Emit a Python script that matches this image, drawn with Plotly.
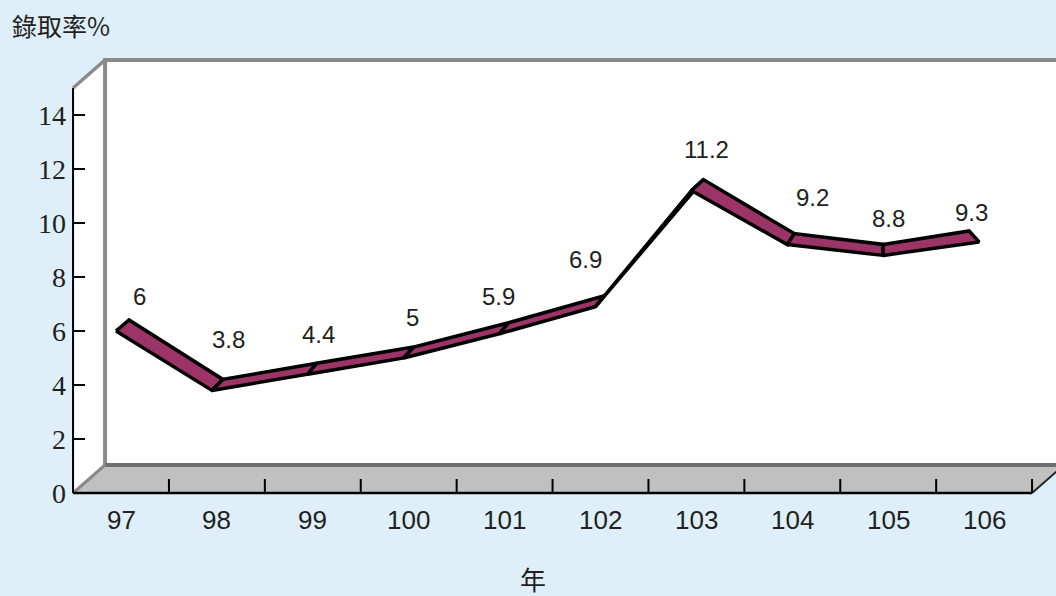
import plotly.graph_objects as go

# ---- data ----
YEARS = ["97", "98", "99", "100", "101", "102", "103", "104", "105", "106"]
RATES = [6, 3.8, 4.4, 5, 5.9, 6.9, 11.2, 9.2, 8.8, 9.3]
VALUE_TEXT = ["6", "3.8", "4.4", "5", "5.9", "6.9", "11.2", "9.2", "8.8", "9.3"]
Y_TICKS = [0, 2, 4, 6, 8, 10, 12, 14]
Y_TICK_TEXT = ["0", "2", "4", "6", "8", "10", "12", "14"]
TITLE = "錄取率%"
X_TITLE = "年"

# ---- style (pixel-based look of the pseudo-3D frame) ----
W, H = 1056, 596
PX_PER_CAT = 95.9
PX_PER_UNIT = 27.0
ORIGIN_PX_X = 121.0   # pixel x of first category centre
ORIGIN_PX_Y = 493.0   # pixel y of value 0
RIBBON_DX_PX = [13, 11, 9, 10, 9, 9, 12, 7, 0, -10]
RIBBON_DY_PX = 11
FRONT_SHIFT_PX = -5
LABEL_RISE_PX = [35, 51, 40, 41, 37, 47, 41, 47, 37, 29]
LABEL_SHIFT_PX = [10, 6, 2, -1, -10, -19, 3, 18, 5, 2]
BG = "#DEEFFA"
RIBBON = "#9C3468"
WALL_EDGE = "#8A8A8A"
FLOOR = "#C0C0C0"
TXT = "#231F20"


def ux(px):
    return px / PX_PER_CAT


def uy(px):
    return px / PX_PER_UNIT


n = len(YEARS)
LEFT = -0.5
RIGHT = n - 0.5
TOP = 15
DX = ux(32)
DY = uy(28)

fig = go.Figure()

# ribbon segments
fx = [i + ux(FRONT_SHIFT_PX) for i in range(n)]
fy = list(RATES)
bx = [fx[i] + ux(RIBBON_DX_PX[i]) for i in range(n)]
by = [fy[i] + uy(RIBBON_DY_PX) for i in range(n)]
for i in range(n - 1):
    fig.add_trace(go.Scatter(
        x=[fx[i], fx[i + 1], bx[i + 1], bx[i], fx[i]],
        y=[fy[i], fy[i + 1], by[i + 1], by[i], fy[i]],
        mode="lines", fill="toself", fillcolor=RIBBON,
        line=dict(color="black", width=3.5),
        hoverinfo="skip", showlegend=False,
    ))

shapes = []
# left side wall
shapes.append(dict(type="path", layer="below",
                   path=f"M {LEFT},0 L {LEFT},{TOP} L {LEFT+DX},{TOP+DY} L {LEFT+DX},{DY} Z",
                   fillcolor="white", line=dict(width=0)))
# back wall
shapes.append(dict(type="rect", layer="below", x0=LEFT + DX, y0=DY, x1=RIGHT + 2, y1=TOP + DY,
                   fillcolor="white", line=dict(color=WALL_EDGE, width=4)))
# floor
shapes.append(dict(type="path", layer="below",
                   path=f"M {LEFT},0 L {LEFT+DX},{DY} L {RIGHT+DX},{DY} L {RIGHT},0 Z",
                   fillcolor=FLOOR, line=dict(width=0)))
# floor back edge
shapes.append(dict(type="line", layer="below", x0=LEFT + DX, y0=DY, x1=RIGHT + 2, y1=DY,
                   line=dict(color="#6F6F6F", width=4)))
# diagonals
shapes.append(dict(type="line", layer="below", x0=LEFT, y0=TOP, x1=LEFT + DX, y1=TOP + DY,
                   line=dict(color=WALL_EDGE, width=3.5)))
shapes.append(dict(type="line", layer="below", x0=LEFT, y0=0, x1=LEFT + DX, y1=DY,
                   line=dict(color=WALL_EDGE, width=3)))
shapes.append(dict(type="line", layer="below", x0=RIGHT, y0=0, x1=RIGHT + DX, y1=DY,
                   line=dict(color="#222222", width=2)))
# front axes
shapes.append(dict(type="line", layer="below", x0=LEFT, y0=0, x1=LEFT, y1=TOP,
                   line=dict(color="black", width=2)))
shapes.append(dict(type="line", layer="below", x0=LEFT, y0=0, x1=RIGHT, y1=0,
                   line=dict(color="black", width=2.5)))
for v in Y_TICKS:
    shapes.append(dict(type="line", layer="below", x0=LEFT, y0=v, x1=LEFT + ux(12), y1=v,
                       line=dict(color="black", width=2)))
for k in range(1, n + 1):
    shapes.append(dict(type="line", layer="below", x0=k - 0.5, y0=0, x1=k - 0.5, y1=uy(14),
                       line=dict(color="black", width=2)))

annotations = []
for v, t in zip(Y_TICKS, Y_TICK_TEXT):
    annotations.append(dict(x=LEFT, y=v, xref="x", yref="y", text=t, showarrow=False,
                            xanchor="right", yanchor="middle", xshift=-5,
                            font=dict(family="Liberation Serif", size=28, color=TXT)))
for i, t in enumerate(YEARS):
    annotations.append(dict(x=i, y=uy(-27), xref="x", yref="y", text=t, showarrow=False,
                            xanchor="center", yanchor="middle",
                            font=dict(family="Liberation Sans", size=26, color=TXT)))
for i, t in enumerate(VALUE_TEXT):
    annotations.append(dict(x=bx[i] + ux(LABEL_SHIFT_PX[i]), y=fy[i] + uy(LABEL_RISE_PX[i]),
                            xref="x", yref="y", text=t,
                            showarrow=False, xanchor="center", yanchor="middle",
                            font=dict(family="Liberation Sans", size=24, color=TXT)))
annotations.append(dict(x=10 / W, y=1 - 25 / H, xref="paper", yref="paper", text=TITLE,
                        showarrow=False, xanchor="left", yanchor="middle",
                        font=dict(family="Noto Sans CJK TC", size=25, color=TXT)))
annotations.append(dict(x=533 / W, y=1 - 578 / H, xref="paper", yref="paper", text=X_TITLE,
                        showarrow=False, xanchor="center", yanchor="middle",
                        font=dict(family="Noto Sans CJK TC", size=26, color=TXT)))

fig.update_layout(
    width=W, height=H, autosize=False,
    margin=dict(l=0, r=0, t=0, b=0),
    paper_bgcolor=BG, plot_bgcolor=BG,
    xaxis=dict(visible=False, range=[ux(-ORIGIN_PX_X), ux(W - ORIGIN_PX_X)], fixedrange=True),
    yaxis=dict(visible=False, range=[uy(ORIGIN_PX_Y - H), uy(ORIGIN_PX_Y)], fixedrange=True),
    shapes=shapes, annotations=annotations, showlegend=False,
)

fig.write_html(
    "out.html",
    config={"displayModeBar": False},
    post_script="document.body.style.margin='0';document.body.style.padding='0';"
                "document.body.style.overflow='hidden';"
                "document.body.style.background='" + BG + "';",
)
